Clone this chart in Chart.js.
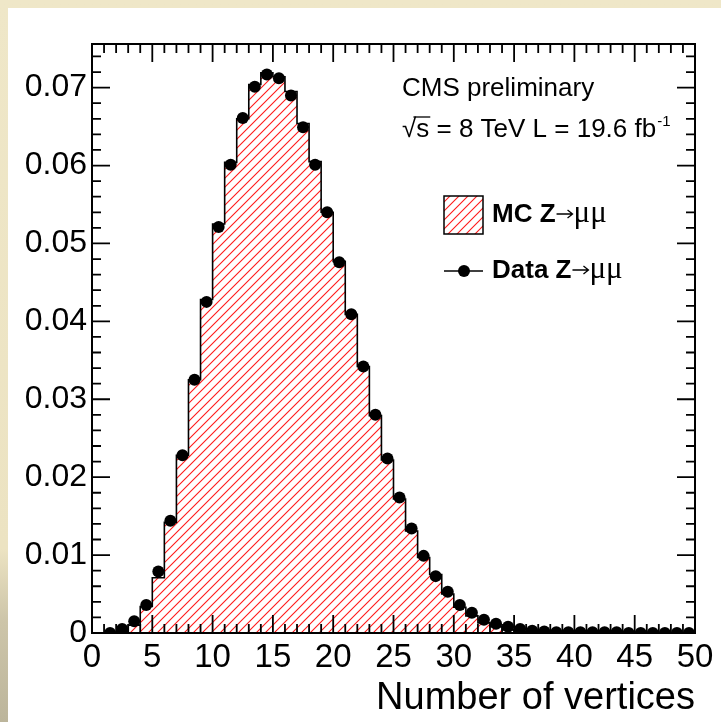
<!DOCTYPE html>
<html>
<head>
<meta charset="utf-8">
<title>Number of vertices</title>
<script src="https://cdn.jsdelivr.net/npm/chart.js@4"></script>
<style>
html, body { margin: 0; padding: 0; }
body {
    width: 721px; height: 722px; overflow: hidden; position: relative;
    background: linear-gradient(#efe7c8, #ece3c2 76%, #cdc5a9 86%, #bcb59b);
}
#panel { position: absolute; left: 8px; top: 8px; width: 713px; height: 714px; background: #fff; }
</style>
</head>
<body>
<div id="panel"><canvas id="vtxChart" width="713" height="714"></canvas></div>
<script>
// 数据：每个 bin 宽度为 1（0 - 50）
const binEdges = Array.from({ length: 51 }, (_, i) => i);

// MC Z->mumu 直方图（bin 0..49）
const mcValues = [
    0, 0, 0.0002, 0.0010, 0.0034, 0.0071, 0.0142, 0.0228, 0.0325, 0.0428,
    0.0525, 0.0604, 0.0660, 0.0704, 0.0719, 0.0714, 0.0695, 0.0654, 0.0605, 0.0540,
    0.0477, 0.0409, 0.0342, 0.0279, 0.0222, 0.0172, 0.0131, 0.0097, 0.0075, 0.0050,
    0.0033, 0.0022, 0.0013, 0.0008, 0.0004, 0.0002, 0.0001, 0.0001, 0.0001, 0.0001,
    0.0001, 0, 0, 0, 0, 0, 0, 0, 0, 0
];

// Data Z->mumu 点（bin 0..49，null 表示无点）
const dataValues = [
    null, 0.0000, 0.0005, 0.0015, 0.0036, 0.0079, 0.0144, 0.0228, 0.0325, 0.0425,
    0.0521, 0.0601, 0.0661, 0.0701, 0.0717, 0.0712, 0.0690, 0.0649, 0.0601, 0.0540,
    0.0476, 0.0409, 0.0342, 0.0280, 0.0224, 0.0174, 0.0134, 0.0099, 0.0073, 0.0053,
    0.0036, 0.0026, 0.0017, 0.0012, 0.0008, 0.0005, 0.0003, 0.0002, 0.0001, 0.0001,
    0.0001, 0.0001, 0.0001, 0.0001, 0, 0, 0, 0, 0, 0
];

const xTickValues = [0, 5, 10, 15, 20, 25, 30, 35, 40, 45, 50];
const yTickValues = [0, 0.01, 0.02, 0.03, 0.04, 0.05, 0.06, 0.07];

const FONT = "'Liberation Sans', Arial, Helvetica, sans-serif";
const SERIF = "'Liberation Serif', 'Times New Roman', serif";

// 红色斜线填充
function makeHatch(size) {
    const c = document.createElement('canvas');
    c.width = size; c.height = size;
    const g = c.getContext('2d');
    g.strokeStyle = 'rgba(255, 0, 0, 0.9)';
    g.lineWidth = 1.1;
    g.beginPath();
    g.moveTo(-1, size + 1); g.lineTo(size + 1, -1);
    g.moveTo(-1, 1); g.lineTo(1, -1);
    g.moveTo(size - 1, size + 1); g.lineTo(size + 1, size - 1);
    g.stroke();
    return g.createPattern(c, 'repeat');
}
const hatch = makeHatch(9);

// 坐标框与内刻度（ROOT 风格）
const rootFrame = {
    id: 'rootFrame',
    afterDatasetDraw(chart, args) {
        if (args.index !== 1) return;
        const { ctx, chartArea: a, scales: { x, y } } = chart;
        ctx.save();
        ctx.strokeStyle = '#000';
        ctx.lineWidth = 1.8;
        ctx.beginPath();
        for (let v = 0; v <= 50; v++) {
            const px = x.getPixelForValue(v);
            const len = v % 5 === 0 ? 18 : 9;
            ctx.moveTo(px, a.bottom); ctx.lineTo(px, a.bottom - len);
            ctx.moveTo(px, a.top); ctx.lineTo(px, a.top + len);
        }
        for (let k = 0; k * 0.002 <= y.max + 1e-9; k++) {
            const py = y.getPixelForValue(k * 0.002);
            const len = k % 5 === 0 ? 18 : 9;
            ctx.moveTo(a.left, py); ctx.lineTo(a.left + len, py);
            ctx.moveTo(a.right, py); ctx.lineTo(a.right - len, py);
        }
        ctx.stroke();
        ctx.lineWidth = 2;
        ctx.strokeRect(a.left, a.top, a.right - a.left, a.bottom - a.top);
        ctx.restore();
    }
};

// 画 "Z→μμ" 中的箭头与 μμ
function drawArrowMuMu(ctx, x, baseline) {
    ctx.save();
    ctx.lineWidth = 1.3;
    ctx.beginPath();
    const ay = baseline - 8;
    ctx.moveTo(x + 1, ay); ctx.lineTo(x + 17, ay);
    ctx.moveTo(x + 12, ay - 4); ctx.lineTo(x + 17, ay); ctx.lineTo(x + 12, ay + 4);
    ctx.stroke();
    ctx.font = `31px ${SERIF}`;
    ctx.fillText('μμ', x + 18, baseline);
    ctx.restore();
}

// 文字说明与图例
const annotations = {
    id: 'annotations',
    afterDraw(chart) {
        const { ctx, chartArea: a } = chart;
        ctx.save();
        ctx.fillStyle = '#000';
        ctx.strokeStyle = '#000';
        ctx.textBaseline = 'alphabetic';
        ctx.textAlign = 'left';

        const tx = a.left + 310;
        ctx.font = `26px ${FONT}`;
        ctx.fillText('CMS preliminary', tx, a.top + 52);

        // √s = 8 TeV L = 19.6 fb-1
        let bx = tx, by = a.top + 93;
        ctx.fillText('√', bx, by);
        const wr = ctx.measureText('√').width;
        const ws = ctx.measureText('s').width;
        ctx.fillText('s', bx + wr, by);
        ctx.lineWidth = 1.3;
        ctx.beginPath();
        ctx.moveTo(bx + wr * 0.8, by - 20);
        ctx.lineTo(bx + wr + ws + 1, by - 20);
        ctx.stroke();
        bx += wr + ws;
        const rest = ' = 8 TeV L = 19.6 fb';
        ctx.fillText(rest, bx, by);
        bx += ctx.measureText(rest).width;
        ctx.font = `15px ${FONT}`;
        ctx.fillText('-1', bx + 1, by - 11);

        // 图例：MC
        const lx = a.left + 352, ly = a.top + 152;
        ctx.fillStyle = hatch;
        ctx.fillRect(lx, ly, 39, 38);
        ctx.lineWidth = 1.5;
        ctx.strokeRect(lx, ly, 39, 38);
        ctx.fillStyle = '#000';
        const textX = lx + 48;
        ctx.font = `bold 26px ${FONT}`;
        ctx.fillText('MC Z', textX, ly + 26);
        let w = ctx.measureText('MC Z').width;
        drawArrowMuMu(ctx, textX + w, ly + 26);

        // 图例：Data
        const dy = ly + 75;
        ctx.lineWidth = 1.5;
        ctx.beginPath();
        ctx.moveTo(lx, dy); ctx.lineTo(lx + 39, dy);
        ctx.stroke();
        ctx.beginPath();
        ctx.arc(lx + 20, dy, 6, 0, Math.PI * 2);
        ctx.fill();
        ctx.font = `bold 26px ${FONT}`;
        ctx.fillText('Data Z', textX, dy + 7);
        w = ctx.measureText('Data Z').width;
        drawArrowMuMu(ctx, textX + w, dy + 7);
        ctx.restore();
    }
};

const mcPoints = binEdges.map((e, i) => ({ x: e, y: mcValues[Math.min(i, mcValues.length - 1)] }));
const dataPoints = [];
dataValues.forEach((v, i) => {
    if (v !== null) dataPoints.push({ x: binEdges[i] + 0.5, y: v });
});

const ctx = document.getElementById('vtxChart').getContext('2d');
window.vtxChart = new Chart(ctx, {
    type: 'line',
    data: {
        datasets: [
            {
                label: 'Data Z→μμ',
                data: dataPoints,
                showLine: false,
                pointRadius: 6,
                pointBackgroundColor: '#000',
                pointBorderWidth: 0,
                pointBorderColor: '#000'
            },
            {
                label: 'MC Z→μμ',
                data: mcPoints,
                stepped: true,
                borderColor: '#000',
                borderWidth: 1.6,
                backgroundColor: hatch,
                fill: 'origin',
                pointRadius: 0
            }
        ]
    },
    options: {
        responsive: false,
        animation: false,
        events: [],
        layout: { padding: { top: 36, right: 26, left: 0, bottom: 0 } },
        plugins: {
            legend: { display: false },
            tooltip: { enabled: false }
        },
        scales: {
            x: {
                type: 'linear',
                min: 0,
                max: 50,
                grid: { display: false, drawTicks: false },
                border: { display: false },
                afterBuildTicks: s => { s.ticks = xTickValues.map(v => ({ value: v })); },
                ticks: {
                    font: { family: FONT, size: 33 },
                    color: '#000',
                    padding: 5,
                    maxRotation: 0,
                    autoSkip: false,
                    callback: v => String(v)
                },
                title: {
                    display: true,
                    text: 'Number of vertices',
                    align: 'end',
                    color: '#000',
                    font: { family: FONT, size: 38 },
                    padding: { top: 0, bottom: 1 }
                },
                afterFit: s => { s.height = 89; }
            },
            y: {
                min: 0,
                max: 0.0756,
                grid: { display: false, drawTicks: false },
                border: { display: false },
                afterBuildTicks: s => { s.ticks = yTickValues.map(v => ({ value: v })); },
                ticks: {
                    font: { family: FONT, size: 32 },
                    color: '#000',
                    padding: 5,
                    callback: v => v === 0 ? '0' : v.toFixed(2)
                },
                afterFit: s => { s.width = 84; }
            }
        }
    },
    plugins: [rootFrame, annotations]
});
</script>
</body>
</html>
